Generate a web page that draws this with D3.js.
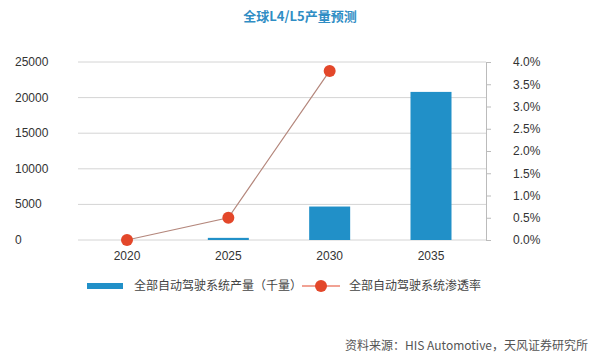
<!DOCTYPE html>
<html><head><meta charset="utf-8">
<script src="https://cdn.jsdelivr.net/npm/d3@7"></script>
<style>body{margin:0;background:#fff;} svg{display:block;font-family:"Noto Sans CJK SC","Liberation Sans",sans-serif;}</style>
</head><body>
<svg id="c" width="600" height="358"></svg>
<script>
const categories = ["2020","2025","2030","2035"];
const production = [0, 300, 4700, 20800];
const penetration = [0.0, 0.5, 3.8, null];
const leftTicks = [0,5000,10000,15000,20000,25000];
const rightTicks = [0,0.5,1,1.5,2,2.5,3,3.5,4];
const title = "全球L4/L5产量预测";
const legendBar = "全部自动驾驶系统产量（千量）";
const legendLine = "全部自动驾驶系统渗透率";
const source = "资料来源：HIS Automotive，天风证券研究所";

(function(){
const svg = d3.select("#c");
const pL = 78, pR = 486, pT = 62, pB = 240;
const xc = d3.scalePoint().domain(categories).range([127, 431]);
const y = d3.scaleLinear().domain([0,25000]).range([pB, pT]);
const y2 = d3.scaleLinear().domain([0,4]).range([pB, pT]);

svg.append("text").attr("x",300).attr("y",21).attr("text-anchor","middle")
  .attr("fill","#2f8dc4").attr("font-weight","bold").attr("font-size",13).text(title);

// gridlines
svg.append("g").selectAll("line").data(leftTicks).join("line")
  .attr("x1",pL).attr("x2",pR).attr("y1",d=>y(d)).attr("y2",d=>y(d))
  .attr("stroke","#d4d4d4").attr("stroke-width",1);
svg.append("g").selectAll("text").data(leftTicks).join("text")
  .attr("x",15).attr("y",d=>y(d)+4).attr("font-size",12).attr("fill","#333")
  .attr("font-family","Liberation Sans, Arial, sans-serif").text(d=>d);

// right axis
const ra = svg.append("g").attr("transform",`translate(${pR},0)`)
  .call(d3.axisRight(y2).tickValues(rightTicks).tickSize(5).tickPadding(22).tickFormat(d=>d.toFixed(1)+"%"));
ra.select(".domain").attr("stroke","#bbb");
ra.selectAll(".tick line").attr("stroke","#bbb");
ra.selectAll("text").attr("font-size",12).attr("fill","#333").attr("font-family","Liberation Sans, Arial, sans-serif");

// bars
svg.append("g").selectAll("rect").data(categories).join("rect")
  .attr("x",(d)=>xc(d)-20.5).attr("width",41)
  .attr("y",(d,i)=>y(production[i])).attr("height",(d,i)=>pB-y(production[i]))
  .attr("fill","#2190c8");

// x labels
svg.append("g").selectAll("text").data(categories).join("text")
  .attr("x",d=>xc(d)).attr("y",260).attr("text-anchor","middle").attr("font-size",12).attr("fill","#333")
  .attr("font-family","Liberation Sans, Arial, sans-serif").text(d=>d);

// line
const pts = categories.map((c,i)=>({c,v:penetration[i]})).filter(d=>d.v!==null);
svg.append("path").datum(pts).attr("fill","none").attr("stroke","#b4877c").attr("stroke-width",1.2)
  .attr("d",d3.line().x(d=>xc(d.c)).y(d=>y2(d.v)));
svg.append("g").selectAll("circle").data(pts).join("circle")
  .attr("cx",d=>xc(d.c)).attr("cy",d=>y2(d.v)).attr("r",6).attr("fill","#e3472a");

// legend
svg.append("rect").attr("x",87).attr("y",283).attr("width",36).attr("height",6).attr("fill","#2190c8");
svg.append("text").attr("x",134).attr("y",290).attr("font-size",12).attr("fill","#444").text(legendBar);
svg.append("line").attr("x1",302).attr("x2",340).attr("y1",286).attr("y2",286).attr("stroke","#e3472a").attr("stroke-width",1.2);
svg.append("circle").attr("cx",321).attr("cy",286).attr("r",6).attr("fill","#e3472a");
svg.append("text").attr("x",349).attr("y",290).attr("font-size",12).attr("fill","#444").text(legendLine);

svg.append("text").attr("x",588).attr("y",350).attr("text-anchor","end").attr("font-size",12).attr("fill","#555").text(source);
})();
</script>
</body></html>
